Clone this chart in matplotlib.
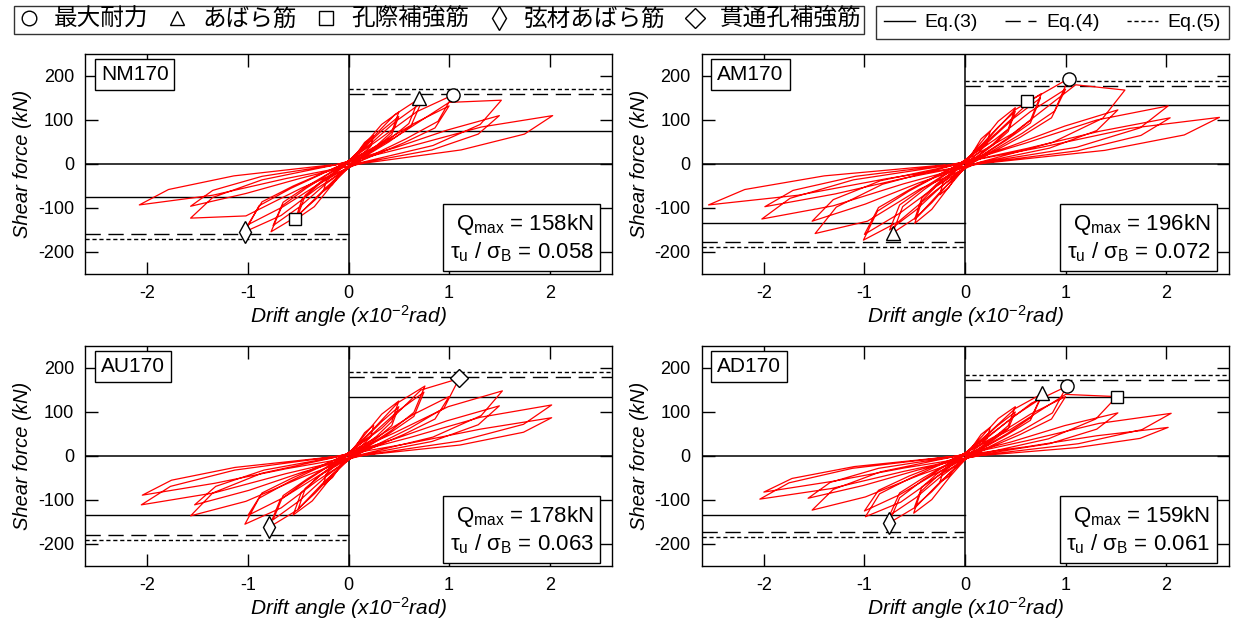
import numpy as np
import matplotlib.pyplot as plt
from matplotlib.lines import Line2D

plt.rcParams['font.family'] = ['Liberation Sans', 'Noto Sans CJK JP', 'DejaVu Sans']
plt.rcParams['mathtext.fontset'] = 'custom'
plt.rcParams['mathtext.rm'] = 'Liberation Sans'
plt.rcParams['mathtext.it'] = 'Liberation Sans:italic'
plt.rcParams['axes.unicode_minus'] = False

specimens = ['NM170', 'AM170', 'AU170', 'AD170']
q_max = [158, 196, 178, 159]
tau_ratio = ['0.058', '0.072', '0.063', '0.061']
eq3 = [75, 133, 133, 133]
eq4 = [160, 178, 180, 173]
eq5 = [170, 188, 191, 184]

# hysteresis loops: drift angle (x10^-2 rad), shear force (kN)
# one row per cycle: positive half then negative half
nm170_d = [0,
           0.08, 0.16, 0.25, 0.22, 0.14, 0.02, -0.08, -0.16, -0.25, -0.22, -0.14, -0.02,
           0.15, 0.33, 0.5, 0.43, 0.28, 0.04, -0.16, -0.34, -0.53, -0.46, -0.29, -0.04,
           0.15, 0.33, 0.5, 0.43, 0.28, 0.04, -0.15, -0.33, -0.5, -0.43, -0.28, -0.04,
           0.21, 0.46, 0.7, 0.6, 0.39, 0.06, -0.23, -0.5, -0.77, -0.66, -0.42, -0.06,
           0.22, 0.47, 0.72, 0.62, 0.4, 0.06, -0.23, -0.49, -0.75, -0.65, -0.41, -0.06,
           0.31, 0.68, 1.04, 0.89, 0.57, 0.08, -0.31, -0.67, -1.03, -0.89, -0.57, -0.08,
           0.3, 0.65, 1.0, 0.86, 0.55, 0.08, -0.3, -0.65, -1.0, -0.86, -0.55, -0.08,
           0.46, 1.0, 1.52, 1.31, 0.84, 0.12, -0.47, -1.02, -1.57, -1.35, -0.86, -0.13,
           0.45, 0.98, 1.5, 1.29, 0.83, 0.12, -0.47, -1.02, -1.57, -1.35, -0.86, -0.13,
           0.61, 1.32, 2.03, 1.75, 1.12, 0.16, -0.62, -1.35, -2.08, -1.79, -1.14, -0.17]
nm170_q = [0,
           23, 49, 65, 40, 23, 1, -22, -47, -62, -38, -22, -1,
           42, 90, 118, 73, 42, 2, -46, -97, -127, -79, -46, -3,
           36, 76, 108, 67, 39, 2, -38, -81, -115, -71, -41, -2,
           53, 112, 148, 92, 53, 3, -55, -117, -154, -95, -55, -3,
           46, 97, 138, 86, 50, 3, -46, -98, -140, -87, -50, -3,
           57, 119, 157, 97, 57, 3, -55, -117, -154, -95, -55, -3,
           44, 92, 132, 82, 48, 3, -46, -97, -138, -86, -50, -3,
           60, 140, 145, 90, 42, 3, -55, -118, -123, -76, -36, -2,
           36, 77, 110, 68, 32, 2, -32, -67, -96, -60, -28, -2,
           40, 84, 110, 68, 32, 2, -33, -71, -93, -58, -27, -2]

am170_d = [0,
           0.08, 0.16, 0.25, 0.22, 0.14, 0.02, -0.08, -0.16, -0.25, -0.22, -0.14, -0.02,
           0.15, 0.33, 0.5, 0.43, 0.28, 0.04, -0.15, -0.33, -0.5, -0.43, -0.28, -0.04,
           0.15, 0.33, 0.5, 0.43, 0.28, 0.04, -0.15, -0.33, -0.5, -0.43, -0.28, -0.04,
           0.23, 0.49, 0.76, 0.65, 0.42, 0.06, -0.22, -0.47, -0.72, -0.62, -0.4, -0.06,
           0.23, 0.49, 0.75, 0.65, 0.41, 0.06, -0.23, -0.49, -0.75, -0.65, -0.41, -0.06,
           0.31, 0.67, 1.03, 0.89, 0.57, 0.08, -0.3, -0.66, -1.01, -0.87, -0.56, -0.08,
           0.3, 0.65, 1.0, 0.86, 0.55, 0.08, -0.3, -0.65, -1.0, -0.86, -0.55, -0.08,
           0.48, 1.1, 1.59, 1.37, 0.87, 0.13, -0.45, -0.97, -1.49, -1.28, -0.82, -0.12,
           0.46, 0.99, 1.52, 1.31, 0.84, 0.12, -0.46, -0.99, -1.52, -1.31, -0.84, -0.12,
           0.61, 1.31, 2.02, 1.74, 1.11, 0.16, -0.61, -1.31, -2.02, -1.74, -1.11, -0.16,
           0.61, 1.33, 2.04, 1.75, 1.12, 0.16, -0.6, -1.29, -1.99, -1.71, -1.09, -0.16,
           0.76, 1.64, 2.53, 2.18, 1.39, 0.2, -0.77, -1.66, -2.55, -2.19, -1.4, -0.2]
am170_q = [0,
           27, 57, 75, 47, 27, 2, -25, -53, -70, -43, -25, -1,
           46, 97, 128, 79, 46, 3, -49, -103, -135, -84, -49, -3,
           40, 84, 120, 74, 43, 2, -41, -88, -125, -78, -45, -3,
           58, 122, 160, 99, 58, 3, -57, -119, -157, -97, -57, -3,
           50, 105, 150, 93, 54, 3, -50, -105, -150, -93, -54, -3,
           70, 147, 194, 120, 70, 4, -62, -131, -173, -107, -62, -3,
           56, 119, 170, 105, 61, 3, -53, -112, -160, -99, -58, -3,
           70, 180, 168, 104, 49, 3, -57, -130, -158, -98, -46, -3,
           41, 86, 123, 76, 36, 2, -43, -91, -130, -81, -38, -3,
           48, 100, 132, 82, 38, 3, -45, -95, -125, -78, -36, -3,
           35, 74, 105, 65, 30, 2, -32, -68, -97, -60, -28, -2,
           38, 81, 106, 66, 31, 2, -33, -71, -93, -58, -27, -2]

au170_d = [0,
           0.08, 0.16, 0.25, 0.22, 0.14, 0.02, -0.08, -0.16, -0.25, -0.22, -0.14, -0.02,
           0.15, 0.33, 0.5, 0.43, 0.28, 0.04, -0.17, -0.36, -0.55, -0.47, -0.3, -0.04,
           0.15, 0.33, 0.5, 0.43, 0.28, 0.04, -0.15, -0.33, -0.5, -0.43, -0.28, -0.04,
           0.23, 0.49, 0.76, 0.65, 0.42, 0.06, -0.24, -0.51, -0.79, -0.68, -0.43, -0.06,
           0.23, 0.49, 0.75, 0.65, 0.41, 0.06, -0.23, -0.49, -0.75, -0.65, -0.41, -0.06,
           0.33, 0.72, 1.1, 0.95, 0.61, 0.09, -0.31, -0.67, -1.03, -0.89, -0.57, -0.08,
           0.3, 0.65, 1.0, 0.86, 0.55, 0.08, -0.3, -0.65, -1.0, -0.86, -0.55, -0.08,
           0.46, 0.99, 1.53, 1.32, 0.84, 0.12, -0.47, -1.02, -1.57, -1.35, -0.86, -0.13,
           0.45, 0.98, 1.5, 1.29, 0.83, 0.12, -0.46, -0.99, -1.53, -1.32, -0.84, -0.12,
           0.61, 1.31, 2.02, 1.74, 1.11, 0.16, -0.62, -1.34, -2.06, -1.77, -1.13, -0.16,
           0.61, 1.31, 2.02, 1.74, 1.11, 0.16, -0.62, -1.33, -2.05, -1.76, -1.13, -0.16]
au170_q = [0,
           25, 53, 70, 43, 25, 1, -23, -49, -65, -40, -23, -1,
           45, 95, 125, 78, 45, 3, -48, -102, -134, -83, -48, -3,
           37, 78, 112, 69, 40, 2, -40, -84, -120, -74, -43, -2,
           57, 121, 159, 99, 57, 3, -58, -123, -162, -100, -58, -3,
           48, 102, 145, 90, 52, 3, -48, -102, -145, -90, -52, -3,
           63, 150, 176, 109, 63, 4, -56, -118, -155, -96, -56, -3,
           45, 95, 135, 84, 49, 3, -45, -95, -135, -84, -49, -3,
           53, 112, 148, 92, 43, 3, -49, -103, -136, -84, -39, -3,
           38, 80, 114, 71, 33, 2, -37, -78, -111, -69, -32, -2,
           42, 88, 116, 72, 34, 2, -40, -84, -111, -69, -32, -2,
           29, 61, 87, 54, 25, 2, -29, -62, -89, -55, -26, -2]

ad170_d = [0,
           0.08, 0.16, 0.25, 0.22, 0.14, 0.02, -0.08, -0.16, -0.25, -0.22, -0.14, -0.02,
           0.15, 0.33, 0.5, 0.43, 0.28, 0.04, -0.15, -0.33, -0.51, -0.44, -0.28, -0.04,
           0.15, 0.33, 0.5, 0.43, 0.28, 0.04, -0.15, -0.33, -0.5, -0.43, -0.28, -0.04,
           0.23, 0.5, 0.77, 0.66, 0.42, 0.06, -0.23, -0.49, -0.76, -0.65, -0.42, -0.06,
           0.23, 0.49, 0.75, 0.65, 0.41, 0.06, -0.23, -0.49, -0.75, -0.65, -0.41, -0.06,
           0.3, 0.66, 1.01, 0.87, 0.56, 0.08, -0.3, -0.64, -0.99, -0.85, -0.54, -0.08,
           0.3, 0.65, 1.0, 0.86, 0.55, 0.08, -0.3, -0.65, -1.0, -0.86, -0.55, -0.08,
           0.45, 1.0, 1.51, 1.3, 0.83, 0.12, -0.46, -0.99, -1.52, -1.31, -0.84, -0.12,
           0.46, 0.99, 1.52, 1.31, 0.84, 0.12, -0.47, -1.01, -1.56, -1.34, -0.86, -0.12,
           0.62, 1.33, 2.05, 1.76, 1.13, 0.16, -0.61, -1.33, -2.04, -1.75, -1.12, -0.16,
           0.61, 1.31, 2.02, 1.74, 1.11, 0.16, -0.6, -1.3, -2.0, -1.72, -1.1, -0.16]
ad170_q = [0,
           23, 49, 65, 40, 23, 1, -22, -46, -60, -37, -22, -1,
           40, 85, 112, 69, 40, 2, -47, -99, -130, -81, -47, -3,
           33, 70, 100, 62, 36, 2, -38, -81, -115, -71, -41, -2,
           51, 108, 142, 88, 51, 3, -55, -116, -153, -95, -55, -3,
           43, 91, 130, 81, 47, 3, -45, -95, -135, -84, -49, -3,
           57, 120, 158, 98, 57, 3, -50, -105, -138, -86, -50, -3,
           45, 95, 135, 84, 49, 3, -41, -88, -125, -78, -45, -3,
           60, 140, 135, 84, 39, 3, -44, -93, -123, -76, -36, -2,
           32, 69, 98, 61, 28, 2, -32, -67, -96, -60, -28, -2,
           35, 74, 97, 60, 28, 2, -35, -74, -98, -61, -28, -2,
           21, 46, 65, 40, 19, 1, -27, -57, -82, -51, -24, -2]

loops = [(nm170_d, nm170_q), (am170_d, am170_q), (au170_d, au170_q), (ad170_d, ad170_q)]

# event points: (kind, drift, shear)
nm170_pts = [('max', 1.04, 157), ('stir', 0.70, 149), ('hole', -0.53, -125), ('chord', -1.03, -155)]
am170_pts = [('max', 1.03, 194), ('hole', 0.62, 143), ('stir', -0.72, -156)]
au170_pts = [('pen', 1.10, 177), ('chord', -0.79, -162)]
ad170_pts = [('stir', 0.77, 144), ('max', 1.01, 158), ('hole', 1.51, 135), ('chord', -0.76, -152)]
points = [nm170_pts, am170_pts, au170_pts, ad170_pts]

marker_style = {'max': ('o', 9.5), 'stir': ('^', 9.5), 'hole': ('s', 9),
                'chord': ('d', 11), 'pen': ('D', 9)}
legend_kinds = ['max', 'stir', 'hole', 'chord', 'pen']
legend_labels = ['最大耐力', 'あばら筋', '孔際補強筋', '弦材あばら筋', '貫通孔補強筋']

W, H = 1244, 627
boxes = [(85, 54), (701.5, 54), (85, 346), (701.5, 346)]
aw, ah = 527, 220

dash4 = (0, (11, 5.5))
dash5 = (0, (3, 2))

fig = plt.figure(figsize=(W / 100, H / 100), dpi=100)

for i, name in enumerate(specimens):
    l, t = boxes[i]
    ax = fig.add_axes([l / W, 1 - (t + ah) / H, aw / W, ah / H])
    ax.set_xlim(-2.62, 2.62)
    ax.set_ylim(-250, 250)
    ax.set_xticks([-2, -1, 0, 1, 2])
    ax.set_yticks([-200, -100, 0, 100, 200])
    ax.tick_params(direction='in', top=True, right=True, length=9, width=1,
                   labelsize=13, pad=8)
    for s in ax.spines.values():
        s.set_linewidth(1)

    ax.axhline(0, color='k', lw=1.1)
    ax.axvline(0, color='k', lw=1.1)
    # design strength lines, positive side on the right half, negative on the left
    for val, ls in [(eq3[i], '-'), (eq4[i], dash4), (eq5[i], dash5)]:
        ax.axhline(val, xmin=0.5, xmax=1.0, color='k', lw=1, ls=ls)
        ax.axhline(-val, xmin=0.0, xmax=0.5, color='k', lw=1, ls=ls)

    d, q = loops[i]
    ax.plot(d, q, color='red', lw=0.9, zorder=3)

    for kind, x, y in points[i]:
        m, ms = marker_style[kind]
        ax.plot(x, y, marker=m, ms=ms, mfc='white', mec='k', mew=1, ls='none', zorder=5)

    ax.text(0.03, 0.95, name, transform=ax.transAxes, ha='left', va='top', fontsize=15,
            bbox=dict(boxstyle='square,pad=0.28', fc='white', ec='k', lw=1))
    ax.text(0.965, 0.045,
            'Q$_{\\mathrm{max}}$ = %dkN\nτ$_{\\mathrm{u}}$ / σ$_{\\mathrm{B}}$ = %s' % (q_max[i], tau_ratio[i]),
            transform=ax.transAxes, ha='right', va='bottom', fontsize=16, linespacing=1.2,
            bbox=dict(boxstyle='square,pad=0.3', fc='white', ec='k', lw=1), zorder=6)

    ax.set_xlabel('Drift angle (x10$^{-2}$rad)', fontsize=15, style='italic', labelpad=1)
    ax.set_ylabel('Shear force (kN)', fontsize=14.5, style='italic', labelpad=4)

handles1 = [Line2D([], [], marker=marker_style[k][0], ms=marker_style[k][1] + 1, mfc='white',
                   mec='k', mew=1, ls='none') for k in legend_kinds]
leg1 = fig.legend(handles1, legend_labels, loc='upper left', bbox_to_anchor=(14 / W, 1 - 6 / H),
                  ncol=5, fontsize=17, frameon=True, fancybox=False, edgecolor='k',
                  handlelength=1.0, handletextpad=0.55, columnspacing=0.75, borderpad=0.12,
                  borderaxespad=0)
leg1.get_frame().set_linewidth(1)

handles2 = [Line2D([], [], color='k', lw=1, ls='-'),
            Line2D([], [], color='k', lw=1, ls=dash4),
            Line2D([], [], color='k', lw=1, ls=dash5)]
leg2 = fig.legend(handles2, ['Eq.(3)', 'Eq.(4)', 'Eq.(5)'], loc='upper left',
                  bbox_to_anchor=(876 / W, 1 - 6 / H), ncol=3, fontsize=14, frameon=True,
                  fancybox=False, edgecolor='k', handlelength=1.6, handletextpad=0.5,
                  columnspacing=1.4, borderpad=0.4, borderaxespad=0)
leg2.get_frame().set_linewidth(1)

fig.savefig('out.png', dpi=100)
